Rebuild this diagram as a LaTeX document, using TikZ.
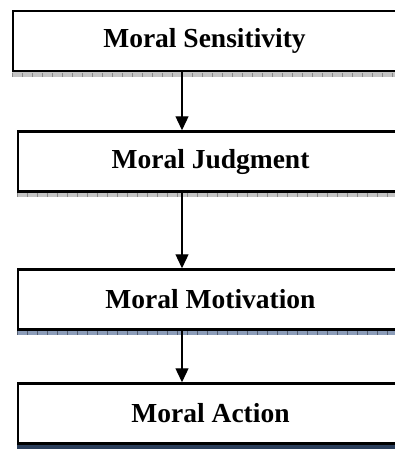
\documentclass[tikz,border=0pt]{standalone}
\usepackage{fontspec}
\setmainfont{Liberation Serif}
\usetikzlibrary{arrows.meta}
\definecolor{shadegrey}{HTML}{C4C4C4}
\definecolor{shadeblue}{HTML}{8C9DB9}
\definecolor{shadenavy}{HTML}{2B3E5B}
\tikzset{
  stage/.style = {rectangle, draw=black, fill=white, line width=2.5pt, minimum width=385pt, minimum height=60pt, inner sep=0pt, text centered, font=\fontsize{27.5}{30}\selectfont\bfseries},
  arrow/.style = {line width=1.3pt, -{Triangle[length=14pt,width=13pt]}},
  ticks/.style = {line width=4pt, dash pattern=on 1pt off 9pt}
}

\begin{document}
\begin{tikzpicture}[x=1pt, y=-1pt]
\useasboundingbox (0,0) rectangle (395,450);
\clip (0,0) rectangle (395,450);
\node (sens) [stage, minimum width=383pt] at (204.5,41) {Moral Sensitivity};
\node (judg) [stage] at (210.5,161.5) {Moral Judgment};
\node (moti) [stage] at (210.5,299.5) {Moral Motivation};
\node (act) [stage] at (210.5,413.5) {Moral Action};
\coordinate (axis) at (182,0);

% shadows under the boxes
\fill [shadegrey] (sens.south west) rectangle ([yshift=-4.5pt]sens.south east);
\draw [ticks, shadegrey!70!black] ([yshift=-2.3pt]sens.south west) -- ([yshift=-2.3pt]sens.south east);
\fill [shadegrey] (judg.south west) rectangle ([yshift=-4.5pt]judg.south east);
\draw [ticks, shadegrey!70!black] ([yshift=-2.3pt]judg.south west) -- ([yshift=-2.3pt]judg.south east);
\fill [shadeblue] (moti.south west) rectangle ([yshift=-4.5pt]moti.south east);
\draw [ticks, shadeblue!60!black] ([yshift=-2.3pt]moti.south west) -- ([yshift=-2.3pt]moti.south east);
\fill [shadenavy] (act.south west) rectangle ([yshift=-4.5pt]act.south east);

\draw [arrow] (sens.south -| axis) -- (judg.north -| axis);
\draw [arrow] (judg.south -| axis) -- (moti.north -| axis);
\draw [arrow] (moti.south -| axis) -- (act.north -| axis);
\end{tikzpicture}
\end{document}
